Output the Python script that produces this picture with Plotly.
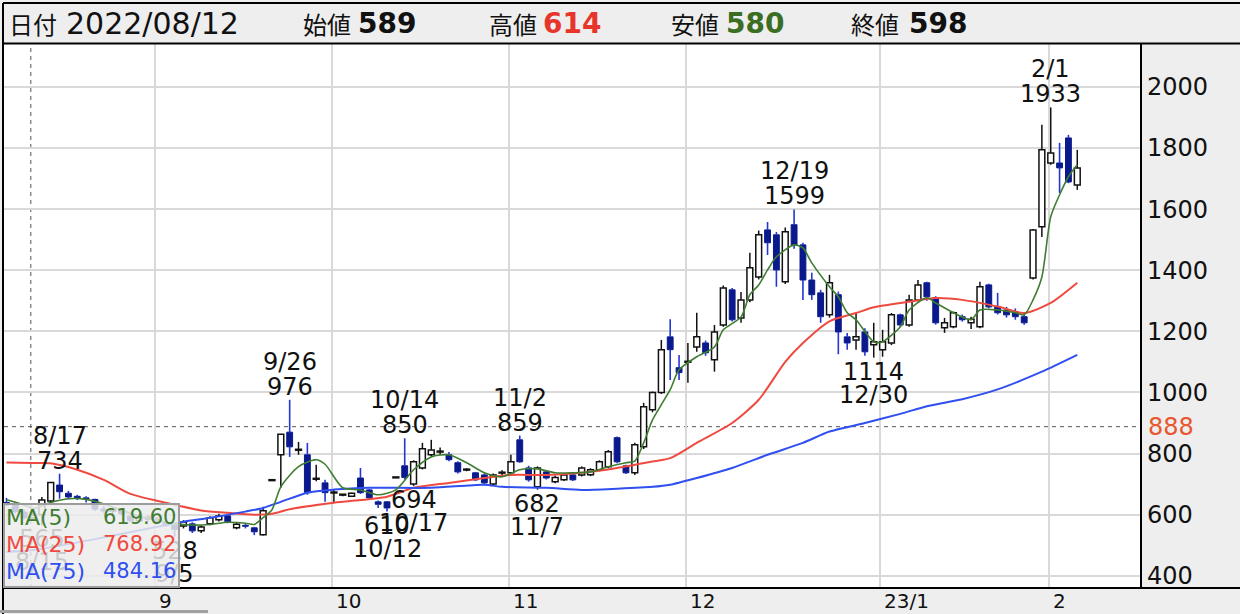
import plotly.graph_objects as go

# ---------------- data ----------------
dates = [
    "2022-08-08", "2022-08-09", "2022-08-10", "2022-08-12", "2022-08-15", "2022-08-16", "2022-08-17",
    "2022-08-18", "2022-08-19", "2022-08-22", "2022-08-23", "2022-08-24", "2022-08-25", "2022-08-26",
    "2022-08-29", "2022-08-30", "2022-08-31",
    "2022-09-01", "2022-09-02", "2022-09-05", "2022-09-06", "2022-09-07", "2022-09-08", "2022-09-09",
    "2022-09-12", "2022-09-13", "2022-09-14", "2022-09-15", "2022-09-16", "2022-09-20", "2022-09-21",
    "2022-09-22", "2022-09-26", "2022-09-27", "2022-09-28", "2022-09-29", "2022-09-30",
    "2022-10-03", "2022-10-04", "2022-10-05", "2022-10-06", "2022-10-07", "2022-10-11", "2022-10-12",
    "2022-10-13", "2022-10-14", "2022-10-17", "2022-10-18", "2022-10-19", "2022-10-20", "2022-10-21",
    "2022-10-24", "2022-10-25", "2022-10-26", "2022-10-27", "2022-10-28", "2022-10-31",
    "2022-11-01", "2022-11-02", "2022-11-04", "2022-11-07", "2022-11-08", "2022-11-09", "2022-11-10",
    "2022-11-11", "2022-11-14", "2022-11-15", "2022-11-16", "2022-11-17", "2022-11-18", "2022-11-21",
    "2022-11-22", "2022-11-24", "2022-11-25", "2022-11-28", "2022-11-29", "2022-11-30",
    "2022-12-01", "2022-12-02", "2022-12-05", "2022-12-06", "2022-12-07", "2022-12-08", "2022-12-09",
    "2022-12-12", "2022-12-13", "2022-12-14", "2022-12-15", "2022-12-16", "2022-12-19", "2022-12-20",
    "2022-12-21", "2022-12-22", "2022-12-23", "2022-12-26", "2022-12-27", "2022-12-28", "2022-12-29",
    "2022-12-30",
    "2023-01-04", "2023-01-05", "2023-01-06", "2023-01-10", "2023-01-11", "2023-01-12", "2023-01-13",
    "2023-01-16", "2023-01-17", "2023-01-18", "2023-01-19", "2023-01-20", "2023-01-23", "2023-01-24",
    "2023-01-25", "2023-01-26", "2023-01-27", "2023-01-30", "2023-01-31",
    "2023-02-01", "2023-02-02", "2023-02-03", "2023-02-06",
]

opens = [
    640, 632, 608, 589, 600, 645, 697, 670, 660, 655, 650, 618, 612, 618, 595, 580, 592,
    585, 575, 565, 563, 570, 547, 570, 583, 596, 557, 565, 557, 534, 713, 796, 870, 812, 796, 717, 704,
    672, 665, 660, 720, 681, 642, 642, 722, 760, 700, 753, 796, 806, 796, 770, 747, 737, 730, 700, 737,
    737, 845, 753, 691, 740, 708, 714, 730, 730, 731, 747, 757, 852, 760, 737, 822, 943, 1000, 1182, 1081,
    1100, 1149, 1162, 1107, 1221, 1336, 1244, 1303, 1378, 1532, 1516, 1362, 1549, 1483, 1368, 1326, 1254,
    1320, 1182, 1172, 1198, 1156,
    1140, 1162, 1254, 1221, 1303, 1359, 1310, 1212, 1215, 1248, 1228, 1215, 1352, 1280, 1270, 1264, 1248,
    1375, 1542,
    1751, 1751, 1833, 1679,
]
highs = [
    655, 640, 615, 614, 658, 707, 734, 678, 665, 660, 652, 628, 625, 622, 600, 595, 598,
    592, 582, 570, 582, 575, 565, 595, 603, 600, 573, 570, 560, 626, 713, 863, 976, 838, 835, 763, 714,
    682, 668, 672, 753, 684, 646, 645, 722, 850, 778, 835, 845, 820, 805, 775, 752, 740, 735, 735, 745,
    796, 859, 760, 758, 745, 728, 735, 735, 758, 752, 778, 812, 856, 763, 835, 966, 1003, 1172, 1240, 1123,
    1162, 1261, 1170, 1221, 1350, 1342, 1329, 1457, 1530, 1558, 1525, 1540, 1599, 1490, 1392, 1336, 1385,
    1330, 1195, 1261, 1210, 1228,
    1205, 1260, 1258, 1320, 1368, 1362, 1315, 1244, 1265, 1255, 1248, 1362, 1356, 1326, 1280, 1275, 1260,
    1535, 1876,
    1933, 1817, 1843, 1794,
]
lows = [
    628, 605, 585, 580, 565, 640, 652, 650, 648, 640, 612, 605, 600, 598, 575, 575, 578,
    570, 560, 528, 555, 540, 540, 565, 578, 572, 552, 555, 533, 532, 713, 688, 789, 796, 665, 709, 642,
    640, 660, 658, 668, 650, 622, 610, 722, 715, 694, 748, 790, 796, 775, 735, 742, 710, 700, 696, 730,
    733, 770, 708, 682, 715, 703, 710, 710, 725, 726, 742, 752, 768, 733, 730, 815, 935, 995, 1041, 1041,
    1032, 1133, 1120, 1068, 1215, 1232, 1228, 1295, 1370, 1450, 1346, 1355, 1470, 1303, 1303, 1228, 1245,
    1125, 1140, 1140, 1120, 1114,
    1117, 1155, 1215, 1215, 1298, 1300, 1222, 1195, 1210, 1232, 1208, 1210, 1275, 1255, 1245, 1238, 1222,
    1370, 1509,
    1745, 1653, 1685, 1663,
]
closes = [
    632, 610, 590, 598, 648, 705, 675, 658, 655, 652, 618, 612, 618, 603, 580, 590, 585,
    575, 565, 552, 576, 547, 560, 590, 596, 577, 569, 562, 544, 613, 713, 863, 822, 813, 672, 718, 672,
    673, 666, 670, 672, 655, 634, 622, 722, 722, 773, 816, 812, 807, 780, 740, 748, 714, 704, 730, 738,
    773, 773, 714, 753, 720, 722, 730, 714, 753, 747, 773, 806, 773, 737, 829, 953, 1000, 1140, 1140, 1065,
    1101, 1182, 1130, 1198, 1342, 1238, 1303, 1408, 1516, 1490, 1401, 1526, 1483, 1368, 1320, 1248, 1359,
    1198, 1162, 1182, 1133, 1166,
    1166, 1254, 1221, 1303, 1352, 1313, 1228, 1228, 1261, 1238, 1240, 1346, 1280, 1261, 1254, 1248, 1228,
    1532, 1794,
    1784, 1735, 1689, 1735,
]

ma5_dates = [
    "2022-08-08", "2022-08-10", "2022-08-12", "2022-08-16", "2022-08-18", "2022-08-22", "2022-08-24",
    "2022-08-26", "2022-08-30", "2022-09-01", "2022-09-05", "2022-09-07", "2022-09-09", "2022-09-13",
    "2022-09-15", "2022-09-16", "2022-09-20", "2022-09-21", "2022-09-22", "2022-09-27", "2022-09-29",
    "2022-09-30", "2022-10-04", "2022-10-06", "2022-10-11", "2022-10-13", "2022-10-17", "2022-10-19",
    "2022-10-21", "2022-10-25", "2022-10-27", "2022-10-31", "2022-11-02", "2022-11-07", "2022-11-09",
    "2022-11-11", "2022-11-15", "2022-11-17", "2022-11-21", "2022-11-22", "2022-11-24", "2022-11-25",
    "2022-11-28", "2022-11-29", "2022-11-30", "2022-12-02", "2022-12-06", "2022-12-07", "2022-12-09",
    "2022-12-12", "2022-12-13", "2022-12-14", "2022-12-15", "2022-12-19", "2022-12-20", "2022-12-21",
    "2022-12-23", "2022-12-26", "2022-12-27", "2022-12-28", "2022-12-30", "2023-01-04", "2023-01-06",
    "2023-01-10", "2023-01-12", "2023-01-13", "2023-01-17", "2023-01-19", "2023-01-20", "2023-01-24",
    "2023-01-26", "2023-01-27", "2023-01-30", "2023-01-31", "2023-02-01", "2023-02-02", "2023-02-03",
    "2023-02-06",
]
ma5_values = [
    649, 632, 620, 640, 652, 650, 635, 615, 595, 582, 570, 566, 568, 575, 572, 568, 590, 616, 691, 757,
    780, 765, 688, 681, 665, 681, 747, 789, 796, 770, 737, 724, 747, 750, 737, 737, 740, 757, 770, 775,
    835, 910, 960, 1009, 1074, 1117, 1149, 1205, 1247, 1320, 1352, 1401, 1444, 1483, 1473, 1424, 1346,
    1313, 1261, 1238, 1166, 1166, 1215, 1270, 1310, 1293, 1261, 1238, 1270, 1270, 1261, 1254, 1303, 1378,
    1575, 1647, 1706, 1745,
]

ma25_dates = [
    "2022-08-08", "2022-08-12", "2022-08-16", "2022-08-19", "2022-08-24", "2022-08-29", "2022-09-02",
    "2022-09-08", "2022-09-13", "2022-09-16", "2022-09-21", "2022-09-26", "2022-10-03", "2022-10-12",
    "2022-10-17", "2022-10-21", "2022-10-27", "2022-11-01", "2022-11-08", "2022-11-14", "2022-11-18",
    "2022-11-25", "2022-11-29", "2022-12-02", "2022-12-08", "2022-12-13", "2022-12-16", "2022-12-20",
    "2022-12-23", "2022-12-28", "2022-12-30", "2023-01-10", "2023-01-13", "2023-01-18", "2023-01-24",
    "2023-01-27", "2023-02-01", "2023-02-06",
]
ma25_values = [
    771, 769, 768, 747, 714, 668, 639, 614, 606, 600, 603, 618, 639, 659, 688, 704, 720, 730, 730, 737,
    753, 774, 785, 835, 900, 976, 1100, 1162, 1233, 1260, 1279, 1297, 1309, 1303, 1281, 1260, 1293, 1359,
]

ma75_dates = [
    "2022-08-08", "2022-08-12", "2022-08-23", "2022-09-01", "2022-09-06", "2022-09-09", "2022-09-15",
    "2022-09-20", "2022-09-22", "2022-09-28", "2022-10-03", "2022-10-07", "2022-10-19", "2022-10-27",
    "2022-10-31", "2022-11-08", "2022-11-14", "2022-11-18", "2022-11-25", "2022-11-29", "2022-12-02",
    "2022-12-08", "2022-12-14", "2022-12-20", "2022-12-23", "2022-12-29", "2023-01-06", "2023-01-12",
    "2023-01-18", "2023-01-24", "2023-01-31", "2023-02-06",
]
ma75_values = [
    478, 484, 520, 560, 577, 590, 610, 622, 642, 672, 682, 688, 688, 698, 691, 688, 681, 685, 691, 698,
    720, 753, 796, 835, 872, 900, 930, 955, 978, 1010, 1068, 1123,
]

legend_names = ["MA(5)", "MA(25)", "MA(75)"]
legend_values = [619.60, 768.92, 484.16]

peak_dates = ["2022-08-17", "2022-09-26", "2022-10-14", "2022-11-02", "2022-12-19", "2023-02-01"]
trough_dates = ["2022-08-15", "2022-09-05", "2022-10-12", "2022-10-17", "2022-11-07", "2022-12-30"]

month_start_dates = ["2022-09-01", "2022-10-03", "2022-11-01", "2022-12-01", "2023-01-04", "2023-02-01"]
month_labels = ["9", "10", "11", "12", "23/1", "2"]

y_ticks = [400, 600, 800, 1000, 1200, 1400, 1600, 1800, 2000]
ref_level = 888
cursor_date = "2022-08-12"

for arr in (opens, highs, lows, closes):
    assert len(arr) == len(dates)
assert len(ma5_dates) == len(ma5_values)
assert len(ma25_dates) == len(ma25_values)
assert len(ma75_dates) == len(ma75_values)

# ---------------- styling / geometry ----------------
W, H = 1240, 614
ML, MR, MT, MB = 4, 99, 44, 26
PW, PH = W - ML - MR, H - MT - MB
GRID_SHIFT = -0.25          # gridlines sit a little left of the candle centre
BODY_W = 0.66               # candle body width (in trading-day units)
DOJI_MIN = 3.0              # minimum drawn body height (price units) so flat candles show as a dash

def px(xp):
    return (xp - ML) / PW

def py(yp):
    return (H - MB - yp) / PH

pos = {d: i for i, d in enumerate(dates)}

NUM_FONT = "DejaVu Sans"
CJK_FONT = "Noto Sans CJK JP"
C_MA5, C_MA25, C_MA75 = "#3f7d32", "#ef4a40", "#2f4ff0"
UP_LINE, UP_FILL = "#111111", "white"
DN_BODY, DN_WICK = "#0a1a8c", "#2236d2"

fig = go.Figure()

# ---- candles built from OHLC: bodies as bars, wicks as line segments ----
groups = {True: dict(x=[], base=[], h=[], wx=[], wy=[]), False: dict(x=[], base=[], h=[], wx=[], wy=[])}
for i, (o, h, l, c) in enumerate(zip(opens, highs, lows, closes)):
    up = c >= o
    g = groups[up]
    top, bot = max(o, c), min(o, c)
    if top - bot < DOJI_MIN:
        mid = (top + bot) / 2
        top, bot = mid + DOJI_MIN / 2, mid - DOJI_MIN / 2
    g["x"].append(i)
    g["base"].append(bot)
    g["h"].append(top - bot)
    if h > top:
        g["wx"] += [i, i, None]
        g["wy"] += [top, h, None]
    if l < bot:
        g["wx"] += [i, i, None]
        g["wy"] += [bot, l, None]

fig.add_trace(go.Bar(x=groups[True]["x"], y=groups[True]["h"], base=groups[True]["base"], width=BODY_W,
                     marker=dict(color=UP_FILL, line=dict(color=UP_LINE, width=1.5)),
                     hoverinfo="skip", showlegend=False))
fig.add_trace(go.Bar(x=groups[False]["x"], y=groups[False]["h"], base=groups[False]["base"], width=BODY_W,
                     marker=dict(color=DN_BODY, line=dict(color=DN_BODY, width=1)),
                     hoverinfo="skip", showlegend=False))
fig.add_trace(go.Scatter(x=groups[True]["wx"], y=groups[True]["wy"], mode="lines",
                         line=dict(color=UP_LINE, width=1.5), hoverinfo="skip", showlegend=False))
fig.add_trace(go.Scatter(x=groups[False]["wx"], y=groups[False]["wy"], mode="lines",
                         line=dict(color=DN_WICK, width=1.6), hoverinfo="skip", showlegend=False))

for d_list, v_list, col, wd in ((ma25_dates, ma25_values, C_MA25, 2.0),
                                (ma75_dates, ma75_values, C_MA75, 2.0),
                                (ma5_dates, ma5_values, C_MA5, 1.6)):
    fig.add_trace(go.Scatter(
        x=[pos[d] for d in d_list], y=v_list, mode="lines",
        line=dict(color=col, width=wd, shape="spline", smoothing=0.7),
        hoverinfo="skip", showlegend=False,
    ))

shapes = []
# dashed cursor lines
shapes.append(dict(type="line", xref="x", yref="paper", x0=pos[cursor_date] + GRID_SHIFT,
                   x1=pos[cursor_date] + GRID_SHIFT, y0=0, y1=1, layer="between",
                   line=dict(color="#555555", width=1, dash="4px,4px")))
shapes.append(dict(type="line", xref="paper", yref="y", x0=0, x1=1, y0=ref_level, y1=ref_level,
                   layer="between", line=dict(color="#555555", width=1, dash="4px,4px")))
# frame lines
BL = dict(color="black", width=2)
shapes += [
    dict(type="line", xref="paper", yref="paper", x0=px(3), x1=px(1245), y0=py(3), y1=py(3), line=BL),
    dict(type="line", xref="paper", yref="paper", x0=px(3), x1=px(1245), y0=py(43.5), y1=py(43.5), line=BL),
    dict(type="line", xref="paper", yref="paper", x0=px(3), x1=px(3), y0=py(3), y1=py(616), line=BL),
    dict(type="line", xref="paper", yref="paper", x0=1, x1=1, y0=py(43.5), y1=0, line=BL),
    dict(type="line", xref="paper", yref="paper", x0=px(3), x1=px(1245), y0=0, y1=0, line=BL),
    dict(type="line", xref="paper", yref="paper", x0=px(0), x1=px(208), y0=py(611.5), y1=py(611.5),
         line=dict(color="#a0a0a0", width=3)),
]

ann = []
LBL = dict(family=NUM_FONT, size=24, color="#111111")
for d in peak_dates:
    i = pos[d]
    v = highs[i]
    md = f"{int(d[5:7])}/{int(d[8:10])}"
    ann.append(dict(x=i, y=v, xref="x", yref="y", text=str(v), showarrow=False, yshift=13,
                    xanchor="center", yanchor="middle", font=LBL))
    ann.append(dict(x=i, y=v, xref="x", yref="y", text=md, showarrow=False, yshift=38,
                    xanchor="center", yanchor="middle", font=LBL))
for d in trough_dates:
    i = pos[d]
    v = lows[i]
    md = f"{int(d[5:7])}/{int(d[8:10])}"
    ann.append(dict(x=i, y=v, xref="x", yref="y", text=str(v), showarrow=False, yshift=-14,
                    xanchor="center", yanchor="middle", font=LBL))
    ann.append(dict(x=i, y=v, xref="x", yref="y", text=md, showarrow=False, yshift=-37,
                    xanchor="center", yanchor="middle", font=LBL))

# legend box (drawn over labels/candles)
ann.append(dict(x=px(3), y=0, xref="paper", yref="paper", xanchor="left", yanchor="bottom",
                text=" ", showarrow=False, width=173, height=81, borderpad=0, borderwidth=2,
                bgcolor="rgba(236,236,236,0.84)", bordercolor="#9c9c9c"))
for k, (nm, val, col) in enumerate(zip(legend_names, legend_values, (C_MA5, C_MA25, C_MA75))):
    yy = py(517 + 27 * k)
    ann.append(dict(x=px(4), y=yy, xref="paper", yref="paper", xanchor="left", yanchor="middle",
                    text=nm, showarrow=False, font=dict(family=NUM_FONT, size=22, color=col)))
    ann.append(dict(x=px(178), y=yy, xref="paper", yref="paper", xanchor="right", yanchor="middle",
                    text=f"{val:.2f}", showarrow=False, font=dict(family=NUM_FONT, size=21, color=col)))

# month labels on the bottom band
for d, t in zip(month_start_dates, month_labels):
    ann.append(dict(x=pos[d] + GRID_SHIFT, y=py(601), xref="x", yref="paper", xanchor="left",
                    yanchor="middle", xshift=2, text=t, showarrow=False,
                    font=dict(family=NUM_FONT, size=20, color="#111111")))

# reference level label on the right axis
ann.append(dict(x=1, y=ref_level, xref="paper", yref="y", xanchor="left", yanchor="middle", xshift=5,
                text=str(ref_level), showarrow=False, font=dict(family=NUM_FONT, size=24, color="#e8572e")))

# header
ci = pos[cursor_date]
hy = py(23)
header = [
    (8, "日付", CJK_FONT, 24, "#111111", False),
    (65, cursor_date.replace("-", "/"), NUM_FONT, 30, "#111111", False),
    (302, "始値", CJK_FONT, 24, "#111111", False),
    (357, str(opens[ci]), NUM_FONT, 28, "#111111", True),
    (488, "高値", CJK_FONT, 24, "#111111", False),
    (542, str(highs[ci]), NUM_FONT, 28, "#e8352b", True),
    (670, "安値", CJK_FONT, 24, "#111111", False),
    (725, str(lows[ci]), NUM_FONT, 28, "#3b6e22", True),
    (850, "終値", CJK_FONT, 24, "#111111", False),
    (908, str(closes[ci]), NUM_FONT, 28, "#111111", True),
]
for xl, t, fam, sz, col, bold in header:
    ann.append(dict(x=px(xl), y=hy, xref="paper", yref="paper", xanchor="left", yanchor="middle",
                    text=f"<b>{t}</b>" if bold else t, showarrow=False, borderpad=0,
                    font=dict(family=fam, size=sz, color=col)))

fig.update_layout(
    width=W, height=H, autosize=False,
    margin=dict(l=ML, r=MR, t=MT, b=MB, pad=0),
    paper_bgcolor="#eeeeee", plot_bgcolor="white",
    showlegend=False, hovermode=False, barmode="overlay",
    shapes=shapes, annotations=ann,
    xaxis=dict(range=[-0.28, 128.2], tickvals=[pos[d] + GRID_SHIFT for d in month_start_dates],
               showticklabels=False, showgrid=True, gridcolor="#d9d9d9", gridwidth=2,
               zeroline=False, showline=False, ticks="", fixedrange=True),
    yaxis=dict(range=[360, 2140.5], side="right", tickvals=y_ticks, showgrid=True, gridcolor="#d9d9d9",
               gridwidth=2, zeroline=False, showline=False, ticks="", ticklabelstandoff=5,
               tickfont=dict(family=NUM_FONT, size=24, color="#111111"), fixedrange=True),
)

fig.write_html("out.html", config={"displayModeBar": False, "staticPlot": True},
               post_script="document.body.style.margin='0';")
